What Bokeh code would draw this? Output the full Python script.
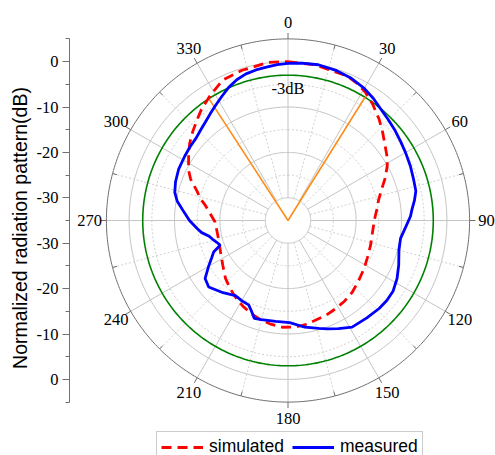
import numpy as np
from bokeh.plotting import figure
from bokeh.models import (Range1d, LinearAxis, FixedTicker, CustomJSTickFormatter,
                          Legend, LegendItem)
from bokeh.core.properties import value
from bokeh.embed import file_html
from bokeh.resources import INLINE

# ---------------- data ----------------
meas_angle = [0, 5, 11, 18, 24, 30, 35, 40, 45, 50, 55, 60, 66, 72, 77, 81, 85, 88, 93, 99,
              105, 112, 118, 124, 129, 134, 141, 149, 155, 160, 164, 171, 179, 187, 195, 199,
              202, 205, 210, 215, 222, 230, 235, 240, 244, 247, 250, 253, 256, 259, 262, 265,
              270, 275, 280, 284, 289, 295, 302, 307, 312, 316, 320, 324, 328, 332, 336, 340,
              344, 348, 352, 356, 360]
meas_db = [-0.4, -0.2, -0.05, -0.3, -0.7, -1.4, -2.2, -3.1, -3.7, -4.2, -4.7, -5.1, -5.5, -5.9,
           -6.1, -6.8, -7.6, -8.0, -9.0, -9.9, -9.7, -8.7, -7.8, -7.1, -7.0, -7.1, -7.4, -7.6,
           -8.7, -9.6, -10.3, -11.2, -12.5, -12.6, -12.4, -12.2, -13.5, -14.5, -14.6, -14.8,
           -13.6, -12.2, -12.7, -14.8, -16.3, -17.2, -19.1, -18.6, -17.9, -17.2, -15.8, -14.9,
           -13.3, -11.9, -10.2, -9.3, -8.8, -8.4, -8.2, -8.0, -7.8, -7.3, -6.7, -5.9, -5.0,
           -4.0, -2.9, -2.0, -1.4, -1.1, -0.9, -0.6, -0.4]

sim_angle = [0, 10, 22, 27, 31, 36, 42, 47, 52, 57, 61, 66, 71, 77, 83, 90, 97, 107, 115, 122,
             130, 138, 145, 152, 158, 165, 170, 176, 183, 190, 196, 202, 208, 215, 220, 227,
             235, 245, 253, 260, 269, 275, 281, 284, 288, 293, 297, 303, 308, 313, 318, 322,
             328, 335, 343, 353, 360]
sim_db = [0.0, -0.2, -0.6, -1.2, -2.0, -3.3, -5.0, -6.5, -7.9, -9.0, -10.0, -11.5, -13.1, -14.5,
          -15.3, -16.0, -16.2, -16.0, -15.7, -15.2, -14.6, -13.8, -13.3, -12.9, -12.5, -12.2,
          -11.8, -11.45, -11.45, -11.9, -12.4, -13.0, -13.7, -14.6, -15.3, -16.2, -17.5, -18.6,
          -19.1, -19.2, -18.9, -17.8, -16.3, -15.1, -13.9, -11.7, -10.4, -8.9, -7.5, -6.3,
          -5.1, -4.0, -2.6, -0.9, -0.4, 0.1, 0.0]

hp_angle = [-33, 0, 32]          # half-power beam edges
hp_db = [-3, -35, -3]
level_3db = -3

angle_ticks = list(range(0, 360, 30))
angle_labels = [str(a) for a in angle_ticks]
ring_major = [-30, -20, -10, 0]
ring_minor = [-25, -15, -5]
r_min, r_max = -35.0, 5.0

# ---------------- helpers ----------------
def polar(ang_deg, db):
    a = np.radians(np.asarray(ang_deg, float))
    r = np.asarray(db, float) - r_min
    return r * np.sin(a), r * np.cos(a)

PX = 4.54              # pixels per dB
CX, CY = 287.5, 220.0  # centre on page
W, H = 495, 455
LEFT = 69

p = figure(width=W, height=H,
           x_range=Range1d((LEFT - CX) / PX, (W - CX) / PX),
           y_range=Range1d(-(H - CY) / PX, CY / PX),
           x_axis_type=None, y_axis_type=None,
           output_backend="svg", toolbar_location=None,
           min_border_left=LEFT, min_border_right=0, min_border_top=0, min_border_bottom=0,
           outline_line_color=None, background_fill_color="white", border_fill_color="white")

full = np.linspace(0, 360, 361)

def rings(levels):
    xs, ys = [], []
    for lv in levels:
        x, y = polar(full, np.full_like(full, lv))
        xs.append(list(x)); ys.append(list(y))
    return xs, ys

xs, ys = rings(ring_major)
p.multi_line(xs, ys, line_color="#c4c4c4", line_width=1)
xs, ys = rings(ring_minor)
p.multi_line(xs, ys, line_color="#d0d0d0", line_width=1, line_dash="2 2")

# spokes
sx, sy, dx, dy = [], [], [], []
for a in range(0, 360, 15):
    x, y = polar([a, a], [ring_major[0], r_max])
    if a % 30 == 0:
        sx.append(list(x)); sy.append(list(y))
    else:
        dx.append(list(x)); dy.append(list(y))
p.multi_line(sx, sy, line_color="#c4c4c4", line_width=1)
p.multi_line(dx, dy, line_color="#d0d0d0", line_width=1, line_dash="2 2")

# outer ring and ticks
x, y = polar(full, np.full_like(full, r_max))
p.line(x, y, line_color="#707070", line_width=1)
tx, ty = [], []
for a in range(0, 360, 15):
    if a % 30 == 0:
        x, y = polar([a, a], [r_max, r_max + 1.3])
    else:
        x, y = polar([a, a], [r_max, r_max - 1.0])
    tx.append(list(x)); ty.append(list(y))
p.multi_line(tx, ty, line_color="#707070", line_width=1)

# angle labels
lx, ly = polar(angle_ticks, [r_max + 3.7] * len(angle_ticks))
p.text(x=lx, y=ly, text=angle_labels, text_align="center", text_baseline="middle",
       text_font=value("Liberation Serif"), text_font_size="16.5px", text_color="black")

# -3 dB ring and beam lines
x, y = polar(full, np.full_like(full, level_3db))
p.line(x, y, line_color="#008000", line_width=1.6)
x, y = polar(hp_angle, hp_db)
p.line(x, y, line_color="#ff8c1a", line_width=1.6)
x, y = polar([0], [level_3db - 2.9])
p.text(x=x, y=y, text=["-3dB"], text_align="center", text_baseline="middle",
       text_font=value("Liberation Serif"), text_font_size="16.5px", text_color="black")

# curves
x, y = polar(sim_angle, sim_db)
sim_r = p.line(x, y, line_color="#ff0000", line_width=2.8, line_dash="10 6")
x, y = polar(meas_angle, meas_db)
meas_r = p.line(x, y, line_color="#0000ff", line_width=2.8)

# left radial axis
ax = LinearAxis(bounds=(-40, 40),
                ticker=FixedTicker(ticks=[-35, -25, -15, -5, 5, 15, 25, 35],
                                   minor_ticks=[-40, -30, -20, -10, 0, 10, 20, 30, 40]),
                formatter=CustomJSTickFormatter(code="return (Math.abs(tick) - 35).toString();"),
                axis_label="Normalized radiation pattern(dB)",
                axis_label_text_font="Liberation Sans", axis_label_text_font_size="19.5px",
                axis_label_text_font_style="normal", axis_label_standoff=3,
                axis_label_text_color="black",
                major_label_text_font="Liberation Serif", major_label_text_font_size="16.5px",
                major_label_text_color="black", major_label_standoff=4,
                axis_line_color="#707070", major_tick_line_color="#707070",
                minor_tick_line_color="#707070",
                major_tick_in=0, major_tick_out=7, minor_tick_in=0, minor_tick_out=4)
p.add_layout(ax, "left")

legend = Legend(items=[LegendItem(label="simulated", renderers=[sim_r]),
                       LegendItem(label="measured", renderers=[meas_r])],
                orientation="horizontal", location=(87, -7), padding=4, spacing=8,
                glyph_width=42, glyph_height=20, label_standoff=6, label_height=20,
                label_text_font="Liberation Sans", label_text_font_size="17.5px",
                label_text_color="black",
                border_line_color="#9a9a9a", border_line_width=1,
                background_fill_color="white", background_fill_alpha=1, margin=0)
p.add_layout(legend)

open("out.html", "w").write(file_html(p, INLINE))
